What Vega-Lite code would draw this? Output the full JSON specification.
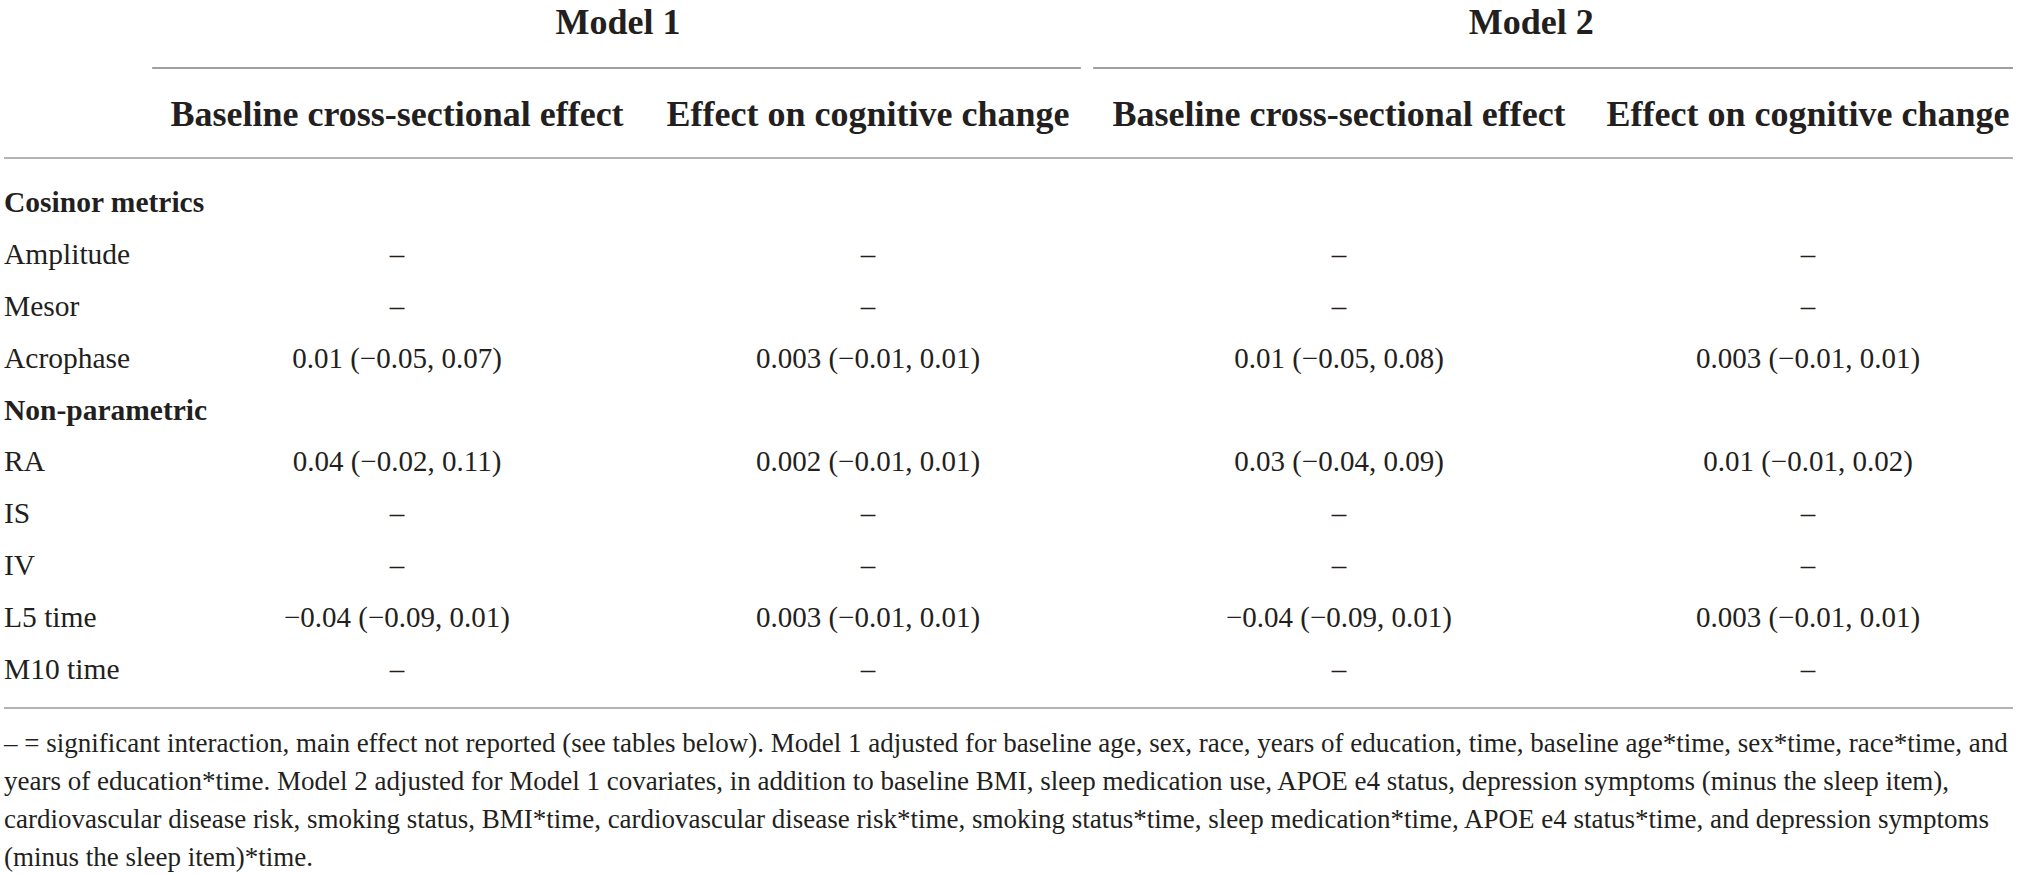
{
  "$schema": "https://vega.github.io/schema/vega-lite/v6.json",
  "width": 2019,
  "height": 875,
  "padding": 0,
  "autosize": {"type": "none"},
  "background": "white",
  "config": {"view": {"stroke": null}, "text": {"font": "Liberation Serif", "color": "#231f20"}},
  "datasets": {
    "table": [
      {"row": 1, "metric": "Cosinor metrics", "section": true},
      {"row": 2, "metric": "Amplitude", "section": false, "m1_base": "–", "m1_change": "–", "m2_base": "–", "m2_change": "–"},
      {"row": 3, "metric": "Mesor", "section": false, "m1_base": "–", "m1_change": "–", "m2_base": "–", "m2_change": "–"},
      {"row": 4, "metric": "Acrophase", "section": false, "m1_base": "0.01 (−0.05, 0.07)", "m1_change": "0.003 (−0.01, 0.01)", "m2_base": "0.01 (−0.05, 0.08)", "m2_change": "0.003 (−0.01, 0.01)"},
      {"row": 5, "metric": "Non-parametric", "section": true},
      {"row": 6, "metric": "RA", "section": false, "m1_base": "0.04 (−0.02, 0.11)", "m1_change": "0.002 (−0.01, 0.01)", "m2_base": "0.03 (−0.04, 0.09)", "m2_change": "0.01 (−0.01, 0.02)"},
      {"row": 7, "metric": "IS", "section": false, "m1_base": "–", "m1_change": "–", "m2_base": "–", "m2_change": "–"},
      {"row": 8, "metric": "IV", "section": false, "m1_base": "–", "m1_change": "–", "m2_base": "–", "m2_change": "–"},
      {"row": 9, "metric": "L5 time", "section": false, "m1_base": "−0.04 (−0.09, 0.01)", "m1_change": "0.003 (−0.01, 0.01)", "m2_base": "−0.04 (−0.09, 0.01)", "m2_change": "0.003 (−0.01, 0.01)"},
      {"row": 10, "metric": "M10 time", "section": false, "m1_base": "–", "m1_change": "–", "m2_base": "–", "m2_change": "–"}
    ],
    "columns": [
      {"key": "m1_base", "col": 1, "model": "Model 1", "effect": "Baseline cross-sectional effect"},
      {"key": "m1_change", "col": 2, "model": "Model 1", "effect": "Effect on cognitive change"},
      {"key": "m2_base", "col": 3, "model": "Model 2", "effect": "Baseline cross-sectional effect"},
      {"key": "m2_change", "col": 4, "model": "Model 2", "effect": "Effect on cognitive change"}
    ],
    "models": [
      {"model": "Model 1", "center": 1.469, "start": 0.377, "end": 2.452},
      {"model": "Model 2", "center": 3.41, "start": 2.478, "end": 4.437}
    ],
    "frames": [
      {"level": 0.133, "start": 0, "end": 4.437},
      {"level": 10.732, "start": 0, "end": 4.437}
    ],
    "notes": [
      {"note": "– = significant interaction, main effect not reported (see tables below). Model 1 adjusted for baseline age, sex, race, years of education, time, baseline age*time, sex*time, race*time, and\nyears of education*time. Model 2 adjusted for Model 1 covariates, in addition to baseline BMI, sleep medication use, APOE e4 status, depression symptoms (minus the sleep item),\ncardiovascular disease risk, smoking status, BMI*time, cardiovascular disease risk*time, smoking status*time, sleep medication*time, APOE e4 status*time, and depression symptoms\n(minus the sleep item)*time."}
    ]
  },
  "layer": [
    {
      "data": {"name": "models"},
      "mark": {"type": "rule", "color": "#7f7f7f", "strokeWidth": 1.5},
      "encoding": {
        "x": {"field": "start", "type": "quantitative", "axis": null, "scale": {"type": "linear", "domain": [0, 1, 2, 3, 4], "range": [4, 397, 868, 1339, 1808], "zero": false, "nice": false}},
        "x2": {"field": "end"},
        "y": {"datum": -1.6, "type": "quantitative", "axis": null, "scale": {"type": "linear", "domain": [1, 10], "range": [203, 670], "zero": false, "nice": false}}
      }
    },
    {
      "data": {"name": "frames"},
      "mark": {"type": "rule", "color": "#b3b3b3", "strokeWidth": 2},
      "encoding": {
        "x": {"field": "start", "type": "quantitative", "axis": null},
        "x2": {"field": "end"},
        "y": {"field": "level", "type": "quantitative", "axis": null}
      }
    },
    {
      "data": {"name": "models"},
      "mark": {"type": "text", "fontSize": 36, "fontWeight": "bold", "align": "center", "baseline": "middle"},
      "encoding": {
        "x": {"field": "center", "type": "quantitative", "axis": null},
        "y": {"datum": -2.469, "type": "quantitative", "axis": null},
        "text": {"field": "model"}
      }
    },
    {
      "data": {"name": "columns"},
      "mark": {"type": "text", "fontSize": 36, "fontWeight": "bold", "align": "center", "baseline": "middle"},
      "encoding": {
        "x": {"field": "col", "type": "quantitative", "axis": null},
        "y": {"datum": -0.696, "type": "quantitative", "axis": null},
        "text": {"field": "effect"}
      }
    },
    {
      "data": {"name": "table"},
      "transform": [{"filter": "datum.section"}],
      "mark": {"type": "text", "fontSize": 29.5, "fontWeight": "bold", "align": "left", "baseline": "middle"},
      "encoding": {
        "x": {"datum": 0, "type": "quantitative", "axis": null},
        "y": {"field": "row", "type": "quantitative", "axis": null},
        "text": {"field": "metric"}
      }
    },
    {
      "data": {"name": "table"},
      "transform": [{"filter": "!datum.section"}],
      "mark": {"type": "text", "fontSize": 29.5, "align": "left", "baseline": "middle"},
      "encoding": {
        "x": {"datum": 0, "type": "quantitative", "axis": null},
        "y": {"field": "row", "type": "quantitative", "axis": null},
        "text": {"field": "metric"}
      }
    },
    {
      "data": {"name": "table"},
      "transform": [
        {"filter": "!datum.section"},
        {"fold": ["m1_base", "m1_change", "m2_base", "m2_change"], "as": ["column", "value"]},
        {"lookup": "column", "from": {"data": {"name": "columns"}, "key": "key", "fields": ["col"]}}
      ],
      "mark": {"type": "text", "fontSize": 29, "align": "center", "baseline": "middle"},
      "encoding": {
        "x": {"field": "col", "type": "quantitative", "axis": null},
        "y": {"field": "row", "type": "quantitative", "axis": null},
        "text": {"field": "value"}
      }
    },
    {
      "data": {"name": "notes"},
      "mark": {"type": "text", "fontSize": 27, "align": "left", "baseline": "alphabetic", "lineBreak": "\n", "lineHeight": 38},
      "encoding": {
        "x": {"datum": 0, "type": "quantitative", "axis": null},
        "y": {"datum": 11.58, "type": "quantitative", "axis": null},
        "text": {"field": "note"}
      }
    }
  ]
}
